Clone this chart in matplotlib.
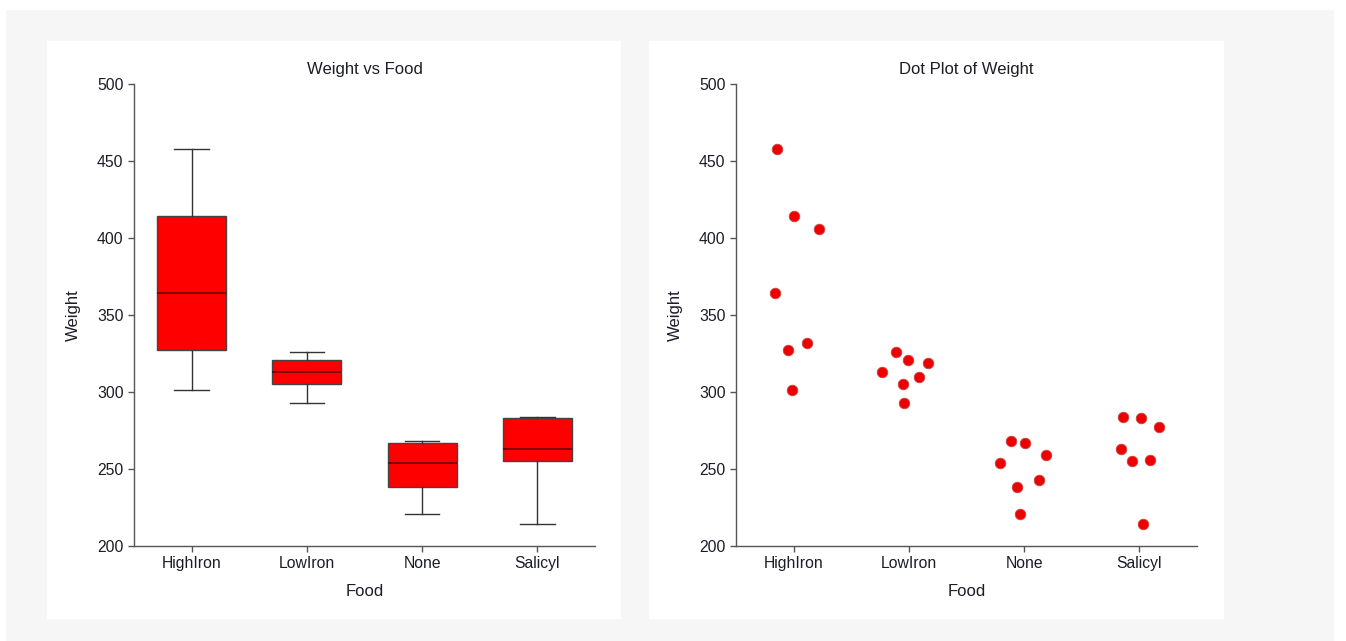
import numpy as np
import matplotlib.pyplot as plt
from matplotlib.patches import Rectangle

# data
foods = ['HighIron', 'LowIron', 'None', 'Salicyl']
high_iron = [458, 414, 406, 364, 327, 332, 301]
low_iron = [313, 326, 321, 319, 305, 310, 293]
none_food = [254, 268, 267, 259, 238, 243, 221]
salicyl = [284, 283, 277, 263, 255, 256, 214]
groups = [high_iron, low_iron, none_food, salicyl]

# horizontal jitter of the dots (category units)
jitter_high = [-0.14, 0.00, 0.22, -0.16, -0.05, 0.12, -0.01]
jitter_low = [-0.23, -0.11, -0.01, 0.17, -0.05, 0.09, -0.04]
jitter_none = [-0.21, -0.11, 0.01, 0.19, -0.06, 0.13, -0.04]
jitter_sal = [-0.14, 0.01, 0.17, -0.16, -0.06, 0.09, 0.03]
jitters = [jitter_high, jitter_low, jitter_none, jitter_sal]

y_ticks = [200, 250, 300, 350, 400, 450, 500]

plt.rcParams['font.family'] = ['Liberation Sans', 'DejaVu Sans']
TEXT = '#1c1c28'
SPINE = '#555555'
W, H = 1346, 641


def style_axes(ax, title):
    ax.set_xlim(0.5, 4.5)
    ax.set_ylim(200, 500)
    ax.set_yticks(y_ticks)
    ax.set_xticks(range(1, 5))
    ax.set_xticklabels(foods)
    for s in ['top', 'right']:
        ax.spines[s].set_visible(False)
    for s in ['left', 'bottom']:
        ax.spines[s].set_color(SPINE)
        ax.spines[s].set_linewidth(1.0)
    ax.tick_params(colors=SPINE, labelcolor=TEXT, labelsize=11.3,
                   length=4, width=1.0, pad=3.5)
    ax.set_title(title, fontsize=12, color=TEXT, pad=7.5)
    ax.set_xlabel('Food', fontsize=12, color=TEXT)
    ax.set_ylabel('Weight', fontsize=12, color=TEXT)
    ax.xaxis.set_label_coords(0.5, -0.082)
    ax.yaxis.set_label_coords(-0.115, 0.5)


def main():
    fig = plt.figure(figsize=(W / 100, H / 100), dpi=100)
    fig.patch.set_facecolor('white')

    # gray backdrop and white panels
    fig.patches.append(Rectangle((6 / W, 0), 1328 / W, (H - 10) / H,
                                 transform=fig.transFigure,
                                 facecolor='#f6f6f6', edgecolor='none', zorder=-3))
    for x0, x1 in [(47, 621), (649, 1224)]:
        fig.patches.append(Rectangle((x0 / W, 1 - 619 / H), (x1 - x0) / W, 578 / H,
                                     transform=fig.transFigure,
                                     facecolor='white', edgecolor='none', zorder=-2))

    ax1 = fig.add_axes([134 / W, 1 - 546 / H, 461 / W, 462 / H])
    ax2 = fig.add_axes([736 / W, 1 - 546 / H, 461 / W, 462 / H])
    for ax in (ax1, ax2):
        ax.set_facecolor('none')

    # box plot: quartiles as (n+1)p order statistics, whiskers at min/max
    stats = []
    for g in groups:
        q1, med, q3 = np.percentile(g, [25, 50, 75], method='weibull')
        stats.append(dict(med=med, q1=q1, q3=q3, whislo=min(g), whishi=max(g), fliers=[]))
    ax1.bxp(stats, positions=range(1, 5), widths=0.6, patch_artist=True,
            showfliers=False,
            boxprops=dict(facecolor='#ff0000', edgecolor='#444444', linewidth=1.0),
            medianprops=dict(color='#6a0000', linewidth=1.2),
            whiskerprops=dict(color='#333333', linewidth=1.0),
            capprops=dict(color='#333333', linewidth=1.0),
            capwidths=0.3)
    style_axes(ax1, 'Weight vs Food')

    for i, (g, jit) in enumerate(zip(groups, jitters)):
        xs = np.array(jit) + i + 1
        ax2.scatter(xs, g, s=58, color='#ee0000', edgecolors='#c84848',
                    linewidths=0.6, zorder=3)
    style_axes(ax2, 'Dot Plot of Weight')

    fig.savefig('out.png', dpi=100)


if __name__ == "__main__":
    main()
